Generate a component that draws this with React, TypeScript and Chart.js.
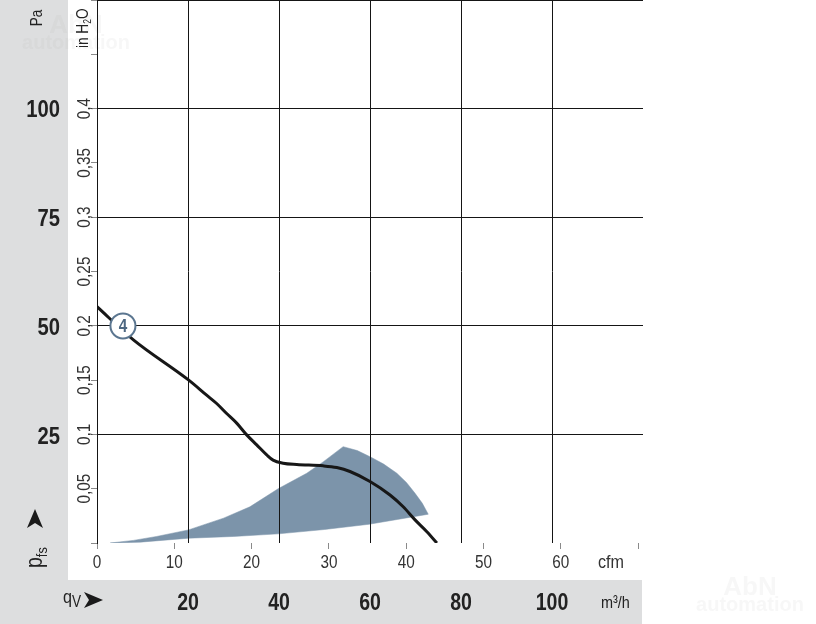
import { useEffect, useRef } from "react";
import { Chart, registerables } from "chart.js";

Chart.register(...registerables);

const FONT = '"Liberation Sans", Arial, "DejaVu Sans", sans-serif';
const SQUEEZE = 0.85; // condensed look

// unit relations
const PA_PER_INH2O = 249.089;
const M3H_PER_CFM = 1.699;

// axis ranges
const flowMax = 120; // m³/h
const inH2OMax = 0.5;
const paMax = inH2OMax * PA_PER_INH2O;
const cfmMax = flowMax / M3H_PER_CFM;

// tick labels
const paTickLabels = [25, 50, 75, 100];
const flowTickLabels = [20, 40, 60, 80, 100];
const cfmTickLabels = [0, 10, 20, 30, 40, 50, 60];
const inH2OTickLabels = [0.05, 0.1, 0.15, 0.2, 0.25, 0.3, 0.35, 0.4];

// characteristic curve 4 (flow m³/h, pressure Pa)
const curveFlow = [0, 8.0, 20.1, 24.1, 26.3, 28.5, 30.7, 32.9, 35.1, 37.3, 38.7, 40.9, 43.9, 49.7, 52.7, 55.6, 60.0, 64.4, 67.3, 69.9, 72.5, 74.7];
const curvePa = [54.2, 46.6, 37.4, 33.9, 32.0, 29.7, 27.5, 24.8, 22.5, 20.2, 19.0, 18.3, 18.0, 17.7, 17.3, 16.4, 14.1, 11.0, 8.3, 5.3, 2.6, 0];

// operating range (shaded area outline, flow m³/h, pressure Pa)
const areaFlow = [2.9, 8.0, 13.1, 20.1, 27.8, 33.6, 39.9, 46.1, 49.7, 54.1, 57.2, 60.0, 63.0, 65.9, 68.0, 69.9, 71.5, 72.8, 66.0, 59.8, 50.0, 39.9, 30.0, 20.1, 9.5, 2.9];
const areaPa = [0, 0.6, 1.5, 3.0, 5.7, 8.3, 12.5, 16.0, 18.6, 22.1, 21.2, 19.8, 18.1, 16.0, 13.9, 11.4, 9.1, 6.6, 5.4, 4.3, 3.1, 2.1, 1.5, 1.1, 0.2, 0];

// curve marker
const markerFlow = 5.7;
const markerPa = 49.8;
const markerText = "4";

const fmtComma = (v: number) => String(parseFloat(v.toFixed(2))).replace(".", ",");
const near = (arr: number[], v: number) => arr.some((a) => Math.abs(a - v) < 1e-6);

type TextOpts = {
  size: number;
  bold?: boolean;
  align?: CanvasTextAlign;
  baseline?: CanvasTextBaseline;
  color?: string;
  rotate?: boolean;
  sx?: number;
};

function drawText(ctx: CanvasRenderingContext2D, text: string, x: number, y: number, o: TextOpts) {
  ctx.save();
  ctx.translate(x, y);
  if (o.rotate) ctx.rotate(-Math.PI / 2);
  ctx.scale(o.sx ?? SQUEEZE, 1);
  ctx.font = `${o.bold ? "bold " : ""}${o.size}px ${FONT}`;
  ctx.textAlign = o.align ?? "left";
  ctx.textBaseline = o.baseline ?? "alphabetic";
  ctx.fillStyle = o.color ?? "#222";
  ctx.fillText(text, 0, 0);
  const w = ctx.measureText(text).width * (o.sx ?? SQUEEZE);
  ctx.restore();
  return w;
}

function drawArrow(ctx: CanvasRenderingContext2D, tipX: number, tipY: number, dir: "up" | "right") {
  ctx.save();
  ctx.translate(tipX, tipY);
  if (dir === "up") ctx.rotate(-Math.PI / 2);
  ctx.beginPath();
  ctx.moveTo(0, 0);
  ctx.lineTo(-19, -8);
  ctx.lineTo(-14, 0);
  ctx.lineTo(-19, 8);
  ctx.closePath();
  ctx.fillStyle = "#1a1a1a";
  ctx.fill();
  ctx.restore();
}

const extrasPlugin = {
  id: "extras",
  beforeDraw(chart: any) {
    const ctx = chart.ctx as CanvasRenderingContext2D;
    ctx.save();
    ctx.fillStyle = "#dddedf";
    ctx.fillRect(0, 0, 68, 580);
    ctx.fillRect(0, 580, 642, 44);
    ctx.restore();
    // faint watermark
    const wm = "rgba(170,170,170,0.09)";
    drawText(ctx, "AbN", 76, 33, { size: 26, bold: true, align: "center", color: wm, sx: 1 });
    drawText(ctx, "automation", 76, 49, { size: 20, bold: true, align: "center", color: wm, sx: 1 });
    drawText(ctx, "AbN", 750, 595, { size: 26, bold: true, align: "center", color: wm, sx: 1 });
    drawText(ctx, "automation", 750, 611, { size: 20, bold: true, align: "center", color: wm, sx: 1 });
  },
  afterDraw(chart: any) {
    const ctx = chart.ctx as CanvasRenderingContext2D;
    const xs = chart.scales.x;
    const x2s = chart.scales.x2;
    const ys = chart.scales.y;
    const y2s = chart.scales.y2;

    // tick labels, positioned by the chart's scales
    for (const v of paTickLabels) {
      drawText(ctx, String(v), 60, ys.getPixelForValue(v) + 10, { size: 23, bold: true, align: "right", sx: 0.88 });
    }
    for (const v of inH2OTickLabels) {
      drawText(ctx, fmtComma(v), 89.5, y2s.getPixelForValue(v), { size: 18, align: "center", rotate: true, color: "#333" });
    }
    for (const v of flowTickLabels) {
      drawText(ctx, String(v), xs.getPixelForValue(v), 610, { size: 23, bold: true, align: "center" });
    }
    for (const v of cfmTickLabels) {
      drawText(ctx, String(v), x2s.getPixelForValue(v), 568, { size: 18, align: "center", color: "#333" });
    }

    // curve marker
    const mx = xs.getPixelForValue(markerFlow);
    const my = ys.getPixelForValue(markerPa);
    ctx.save();
    ctx.beginPath();
    ctx.arc(mx, my, 12.5, 0, Math.PI * 2);
    ctx.fillStyle = "#ffffff";
    ctx.fill();
    ctx.lineWidth = 2;
    ctx.strokeStyle = "#5b7690";
    ctx.stroke();
    ctx.restore();
    drawText(ctx, markerText, mx, my + 6.5, { size: 18, bold: true, align: "center", color: "#4d6781" });

    // Pa title
    drawText(ctx, "Pa", 42, 18, { size: 16, align: "center", rotate: true });

    // in H2O title
    let w = drawText(ctx, "in H", 88, 48, { size: 16, rotate: true });
    w += drawText(ctx, "2", 91, 48 - w, { size: 10, rotate: true });
    drawText(ctx, "O", 88, 48 - w, { size: 16, rotate: true });

    // p_fs with arrow
    const pw = drawText(ctx, "p", 42, 568, { size: 23, rotate: true });
    drawText(ctx, "fs", 47, 568 - pw, { size: 15, rotate: true });
    drawArrow(ctx, 35, 509, "up");

    // q_V with arrow
    const qw = drawText(ctx, "q", 63, 603, { size: 19 });
    drawText(ctx, "V", 63 + qw, 607, { size: 16 });
    drawArrow(ctx, 103, 600, "right");

    // unit labels
    drawText(ctx, "cfm", 598, 568, { size: 19, color: "#333" });
    drawText(ctx, "m³/h", 601, 608, { size: 17 });
  },
};

const zeroPad = (s: any) => {
  s.paddingTop = 0;
  s.paddingBottom = 0;
  s.paddingLeft = 0;
  s.paddingRight = 0;
};

export default function App() {
  const ref = useRef<HTMLCanvasElement | null>(null);

  useEffect(() => {
    if (!ref.current) return;
    const curveData = curveFlow.map((x, i) => ({ x, y: curvePa[i] }));
    const areaData = areaFlow.map((x, i) => ({ x, y: areaPa[i] }));
    const gridColor = (hidden: number[]) => (c: any) =>
      c.tick && near(hidden, c.tick.value) ? "rgba(0,0,0,0)" : "#151515";

    const chart = new Chart(ref.current, {
      type: "scatter",
      data: {
        datasets: [
          {
            data: curveData,
            showLine: true,
            borderColor: "#171717",
            borderWidth: 3,
            pointRadius: 0,
            cubicInterpolationMode: "monotone",
            fill: false,
            order: 0,
          } as any,
          {
            data: areaData,
            showLine: true,
            borderColor: "#7c94aa",
            backgroundColor: "#7c94aa",
            borderWidth: 0.5,
            pointRadius: 0,
            tension: 0,
            fill: "shape",
            order: 1,
          } as any,
        ],
      },
      options: {
        animation: false,
        responsive: false,
        devicePixelRatio: 1,
        layout: { padding: { left: 0, top: 0, right: 173, bottom: 0 } },
        plugins: { legend: { display: false }, tooltip: { enabled: false } },
        events: [],
        scales: {
          x: {
            type: "linear",
            position: "bottom",
            weight: 1,
            min: 0,
            max: flowMax,
            afterFit: (s: any) => {
              s.height = 44;
              zeroPad(s);
            },
            border: { display: false },
            grid: { z: 1, color: gridColor([0, flowMax]), lineWidth: 1, drawTicks: false },
            ticks: { stepSize: 20, display: false },
          },
          x2: {
            type: "linear",
            position: "bottom",
            weight: 0,
            min: 0,
            max: cfmMax,
            afterFit: (s: any) => {
              s.height = 37;
              zeroPad(s);
            },
            border: { display: false },
            grid: { drawOnChartArea: false, drawTicks: true, tickLength: 6, color: "#8a8a8a", lineWidth: 1 },
            ticks: { stepSize: 10, includeBounds: false, display: false },
          },
          y: {
            type: "linear",
            position: "left",
            weight: 1,
            min: 0,
            max: paMax,
            afterFit: (s: any) => {
              s.width = 68;
              zeroPad(s);
            },
            border: { display: false },
            grid: { z: 1, color: gridColor([0]), lineWidth: 1, drawTicks: false },
            ticks: { stepSize: 25, includeBounds: false, display: false },
          },
          y2: {
            type: "linear",
            position: "left",
            weight: 0,
            min: 0,
            max: inH2OMax,
            afterFit: (s: any) => {
              s.width = 29;
              zeroPad(s);
            },
            border: { display: true, color: "#151515", width: 1, z: 1 },
            grid: { drawOnChartArea: false, drawTicks: true, tickLength: 6, color: "#8a8a8a", lineWidth: 1 },
            ticks: { stepSize: 0.05, display: false },
          },
        },
      } as any,
      plugins: [extrasPlugin],
    });
    return () => chart.destroy();
  }, []);

  return (
    <div style={{ position: "absolute", left: 0, top: 0, width: 816, height: 624 }}>
      <canvas ref={ref} width={816} height={624} />
    </div>
  );
}
